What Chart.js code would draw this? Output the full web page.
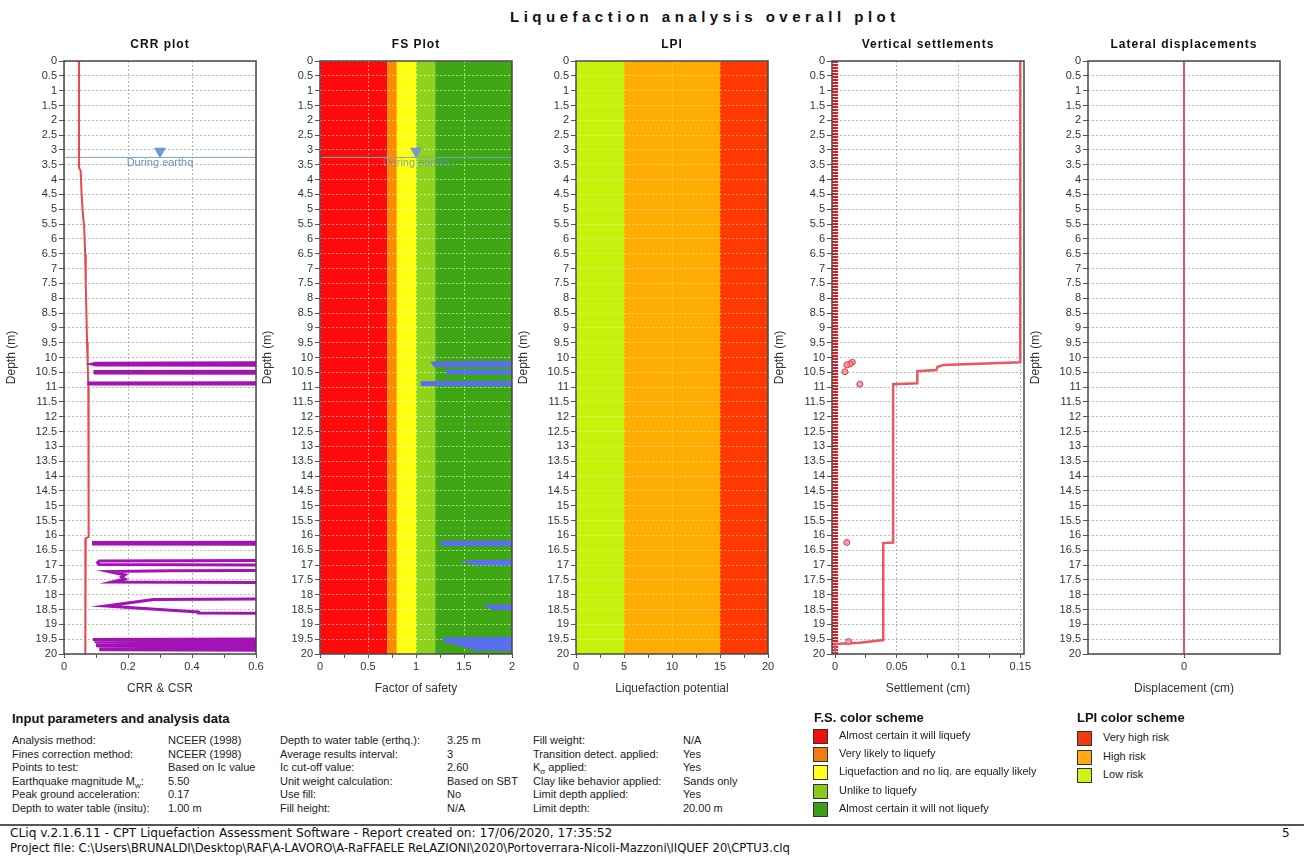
<!DOCTYPE html>
<html>
<head>
<meta charset="utf-8">
<script src="https://cdn.jsdelivr.net/npm/chart.js@4.4.0/dist/chart.umd.min.js"></script>
<style>
  body { margin: 0; background: #fff; width: 1304px; height: 856px; position: relative; overflow: hidden;
         font-family: "Liberation Sans", Arial, sans-serif; color: #222; }
  canvas { position: absolute; top: 36px; }
  .abs { position: absolute; white-space: nowrap; }
  .main-title { top: 8px; left: 510px; font-size: 15px; font-weight: bold; letter-spacing: 4.5px; color: #111; }
  .head { font-size: 13px; font-weight: bold; color: #111; }
  .col { font-size: 11px; line-height: 13.6px; color: #222; }
  .lo { font-size: 8px; position: relative; top: 3px; line-height: 0; }
  .sw { position: absolute; width: 13px; height: 13px; border: 1px solid #333; }
  .leg { font-size: 11px; color: #222; }
  .rule { position: absolute; left: 0; width: 1304px; height: 2px; background: #555; }
  .foot { font-family: "DejaVu Sans", Verdana, sans-serif; color: #111; }
</style>
</head>
<body>
<div class="abs main-title">Liquefaction analysis overall plot</div>

<canvas id="p0" width="264" height="664" style="left:4px"></canvas>
<canvas id="p1" width="264" height="664" style="left:260px"></canvas>
<canvas id="p2" width="264" height="664" style="left:516px"></canvas>
<canvas id="p3" width="264" height="664" style="left:772px"></canvas>
<canvas id="p4" width="264" height="664" style="left:1028px"></canvas>

<div class="abs head" style="left:12px;top:711px">Input parameters and analysis data</div>
<div class="abs col" style="left:12px;top:734px">Analysis method:<br>Fines correction method:<br>Points to test:<br>Earthquake magnitude M<span class="lo">w</span>:<br>Peak ground acceleration:<br>Depth to water table (insitu):</div>
<div class="abs col" style="left:168px;top:734px">NCEER (1998)<br>NCEER (1998)<br>Based on Ic value<br>5.50<br>0.17<br>1.00 m</div>
<div class="abs col" style="left:280px;top:734px">Depth to water table (erthq.):<br>Average results interval:<br>Ic cut-off value:<br>Unit weight calculation:<br>Use fill:<br>Fill height:</div>
<div class="abs col" style="left:447px;top:734px">3.25 m<br>3<br>2.60<br>Based on SBT<br>No<br>N/A</div>
<div class="abs col" style="left:533px;top:734px">Fill weight:<br>Transition detect. applied:<br>K<span class="lo">σ</span> applied:<br>Clay like behavior applied:<br>Limit depth applied:<br>Limit depth:</div>
<div class="abs col" style="left:683px;top:734px">N/A<br>Yes<br>Yes<br>Sands only<br>Yes<br>20.00 m</div>

<div class="abs head" style="left:814px;top:710px">F.S. color scheme</div>
<div id="fsLegend"></div>
<div class="abs head" style="left:1077px;top:710px">LPI color scheme</div>
<div id="lpiLegend"></div>

<div class="rule" style="top:824px"></div>
<div class="abs foot" style="left:10px;top:826px;font-size:12.2px">CLiq v.2.1.6.11 - CPT Liquefaction Assessment Software - Report created on: 17/06/2020, 17:35:52</div>
<div class="abs foot" style="left:1282px;top:826px;font-size:12px">5</div>
<div class="abs foot" style="left:10px;top:841px;font-size:11.6px">Project file: C:\Users\BRUNALDI\Desktop\RAF\A-LAVORO\A-RaFFAELE ReLAZIONI\2020\Portoverrara-Nicoli-Mazzoni\lIQUEF 20\CPTU3.clq</div>

<script>
// depth axis (m)
const depthTicks = [0,0.5,1,1.5,2,2.5,3,3.5,4,4.5,5,5.5,6,6.5,7,7.5,8,8.5,9,9.5,10,10.5,11,11.5,12,12.5,13,13.5,14,14.5,15,15.5,16,16.5,17,17.5,18,18.5,19,19.5,20];

// x ticks per panel (all marks / labelled ones)
const crrTicks = [0,0.1,0.2,0.3,0.4,0.5,0.6];
const crrLabels = [0,0.2,0.4,0.6];
const fsTicks = [0,0.25,0.5,0.75,1,1.25,1.5,1.75,2];
const fsLabels = [0,0.5,1,1.5,2];
const lpiTicks = [0,2.5,5,7.5,10,12.5,15,17.5,20];
const lpiLabels = [0,5,10,15,20];
const settleTicks = [0,0.025,0.05,0.075,0.1,0.125,0.15];
const settleLabels = [0,0.05,0.1,0.15];
const latTicks = [0];
const latLabels = [0];

// CSR (red) and CRR (purple)
const csrDepth = [0,3.6,3.7,4.5,5,5.6,6.5,7.5,8.5,9.5,10.2,11,13,15,16.05,16.1,18.6,18.7,20];
const csrValue = [0.047,0.047,0.052,0.055,0.058,0.063,0.066,0.068,0.07,0.072,0.074,0.076,0.077,0.077,0.077,0.068,0.068,0.066,0.066];
const crrDepth = [10.17,10.19,10.22,10.25,10.27, 10.46,10.47,10.52,10.53, 10.85,10.86,10.89,10.9,
  16.23,16.24,16.29,16.3, 16.84,16.86,16.92,16.98,17.0,
  17.18,17.19,17.22,17.28,17.33,17.4,17.47,17.57,17.6,
  18.14,18.16,18.38,18.55,18.58,18.62,18.64,
  19.49,19.51,19.55,19.58,19.62,19.65,19.68,19.72,19.76,19.79,19.82,19.86,19.88];
const crrValue = [0.8,0.1,0.088,0.1,0.8, 0.8,0.097,0.097,0.8, 0.8,0.078,0.078,0.8,
  0.8,0.092,0.092,0.8, 0.8,0.11,0.105,0.11,0.8,
  0.8,0.33,0.14,0.165,0.19,0.18,0.19,0.15,0.8,
  0.8,0.28,0.13,0.37,0.42,0.42,0.8,
  0.8,0.09,0.8,0.095,0.8,0.1,0.8,0.1,0.8,0.11,0.8,0.11,0.8];

// factor of safety (blue)
const fsDepth = [10.17,10.19,10.21,10.25,10.27, 10.46,10.48,10.51,10.53, 10.85,10.87,10.89,10.91,
  16.23,16.25,16.29,16.31, 16.86,16.9,16.94,16.97, 18.35,18.4,18.45,18.48,
  19.48,19.5,19.55,19.58,19.62,19.66,19.7,19.75,19.78,19.82,19.85];
const fsValue = [3,1.5,1.19,1.2,3, 3,1.33,1.33,3, 3,1.07,1.07,3,
  3,1.28,1.28,3, 3,1.58,1.62,3, 3,1.77,1.8,3,
  3,1.28,3,1.3,3,1.4,3,1.5,3,1.58,3];

// vertical settlement (cm)
const settleDepth = [0,10.16,10.25,10.31,10.42,10.46,10.5,10.87,10.9,16.24,16.26,19.53,19.62,19.66,20];
const settleValue = [0.15,0.15,0.088,0.083,0.082,0.0666,0.0666,0.0666,0.047,0.047,0.039,0.039,0.02,0,0];
const layerDepth = [10.16,10.22,10.25,10.48,10.9,16.24,19.58];
const layerValue = [0.014,0.012,0.0095,0.008,0.02,0.0095,0.011];
const zeroDepth = [0,20];
const zeroValue = [0,0];

// lateral displacement (cm)
const latDepth = [0,20];
const latValue = [0,0];

// water table during earthquake
const waterDepth = 3.25;

// colour bands
const fsBandEdges = [0,0.7,0.8,1.0,1.2,2];
const fsBandColors = ['#ff0a0a','#ff8a00','#ffff10','#8ed21c','#3fa614'];
const lpiBandEdges = [0,5,15,20];
const lpiBandColors = ['#c6f20c','#ffad00','#ff3a00'];

const fsLegend = ['Almost certain it will liquefy','Very likely to liquefy','Liquefaction and no liq. are equally likely','Unlike to liquefy','Almost certain it will not liquefy'];
const fsLegendColors = ['#ee1111','#f07c12','#ffff22','#8cc81e','#3c9e18'];
const lpiLegend = ['Very high risk','High risk','Low risk'];
const lpiLegendColors = ['#f03c10','#ffaa10','#ccf416'];

Chart.defaults.font.family = '"Liberation Sans", Arial, sans-serif';

function xy(xs, ys) { return xs.map((v, i) => ({ x: v, y: ys[i] })); }

function line(xs, ys, color, width, extra) {
  return Object.assign({ data: xy(xs, ys), borderColor: color, borderWidth: width, pointRadius: 0,
    fill: false, tension: 0, clip: 0 }, extra || {});
}

function waterSets(xMax, markerX) {
  return [
    line([0, xMax], [waterDepth, waterDepth], '#7ea4c4', 1),
    { data: [{ x: markerX, y: 3.04 }], showLine: false, pointStyle: 'triangle', rotation: 180,
      pointRadius: 7, backgroundColor: '#6f9ccc', borderColor: '#6f9ccc', borderWidth: 0 }
  ];
}

function panel(idx, cfg) {
  const deco = {
    id: 'deco' + idx,
    beforeDraw(chart) {
      if (!cfg.bands) return;
      const { ctx, chartArea: a, scales: { x } } = chart;
      ctx.save();
      cfg.bands.colors.forEach((c, i) => {
        const x0 = x.getPixelForValue(cfg.bands.edges[i]);
        const x1 = x.getPixelForValue(cfg.bands.edges[i + 1]);
        ctx.fillStyle = c;
        ctx.fillRect(x0, a.top, x1 - x0, a.bottom - a.top);
      });
      ctx.restore();
    },
    afterDatasetsDraw(chart) {
      const { ctx, chartArea: a, scales: { x, y } } = chart;
      ctx.save();
      if (cfg.water) {
        ctx.fillStyle = cfg.water.color;
        ctx.font = '11px "Liberation Sans", Arial, sans-serif';
        ctx.textAlign = 'center';
        ctx.textBaseline = 'middle';
        ctx.fillText('During earthq', x.getPixelForValue(cfg.water.x), y.getPixelForValue(3.45));
      }
      ctx.strokeStyle = '#484848';
      ctx.lineWidth = 1.5;
      ctx.strokeRect(a.left, a.top, a.right - a.left, a.bottom - a.top);
      ctx.fillStyle = '#111';
      ctx.font = 'bold 12px "Liberation Sans", Arial, sans-serif';
      ctx.letterSpacing = '1px';
      ctx.textAlign = 'center';
      ctx.textBaseline = 'middle';
      ctx.fillText(cfg.title, (a.left + a.right) / 2, 9);
      ctx.restore();
    }
  };

  new Chart(document.getElementById('p' + idx), {
    type: 'line',
    data: { datasets: cfg.datasets },
    options: {
      responsive: false,
      animation: false,
      events: [],
      layout: { padding: { top: 25, right: 12, left: 0, bottom: 0 } },
      plugins: { legend: { display: false }, tooltip: { enabled: false } },
      scales: {
        x: {
          type: 'linear', min: cfg.min, max: cfg.max,
          afterBuildTicks: s => { s.ticks = cfg.ticks.map(v => ({ value: v })); },
          afterFit: s => { s.height = 46; s.paddingLeft = 0; s.paddingRight = 0; },
          ticks: { autoSkip: false, maxRotation: 0, padding: 2, color: '#333', font: { size: 11 },
                   callback: v => cfg.labels.includes(v) ? String(v) : '' },
          grid: { color: c => (c.tick && cfg.labels.includes(c.tick.value)) ? cfg.xGrid : 'transparent',
                  tickColor: '#555', tickLength: 4 },
          border: { display: false, dash: [2, 2] },
          title: { display: true, text: cfg.xTitle, color: '#333', font: { size: 12 }, padding: { top: 0, bottom: 4 } }
        },
        y: {
          type: 'linear', reverse: true, min: 0, max: 20,
          afterBuildTicks: s => { s.ticks = depthTicks.map(v => ({ value: v })); },
          afterFit: s => { s.width = 60; s.paddingTop = 0; s.paddingBottom = 0; },
          ticks: { autoSkip: false, padding: 2, color: '#333', font: { size: 11 }, callback: v => String(v) },
          grid: { color: cfg.yGrid, tickColor: '#555', tickLength: 5 },
          border: { display: false, dash: [2, 2] },
          title: { display: true, text: 'Depth (m)', color: '#333', font: { size: 12 }, padding: { top: 0, bottom: 2 } }
        }
      }
    },
    plugins: [deco]
  });
}

panel(0, {
  title: 'CRR plot', xTitle: 'CRR & CSR', min: 0, max: 0.6, ticks: crrTicks, labels: crrLabels,
  xGrid: '#b8b8b8', yGrid: '#b8b8b8',
  water: { x: 0.3, color: '#6a94b8' },
  datasets: [
    line(crrValue, crrDepth, '#a312b4', 3),
    line(csrValue, csrDepth, '#e8484e', 2),
    ...waterSets(0.6, 0.3)
  ]
});

panel(1, {
  title: 'FS Plot', xTitle: 'Factor of safety', min: 0, max: 2, ticks: fsTicks, labels: fsLabels,
  xGrid: 'rgba(255,255,255,0.55)', yGrid: 'rgba(255,255,255,0.55)',
  bands: { edges: fsBandEdges, colors: fsBandColors },
  water: { x: 1.0, color: 'rgba(100,140,190,0.75)' },
  datasets: [
    line(fsValue, fsDepth, '#5a6ef2', 4),
    ...waterSets(2, 1.0)
  ]
});

panel(2, {
  title: 'LPI', xTitle: 'Liquefaction potential', min: 0, max: 20, ticks: lpiTicks, labels: lpiLabels,
  xGrid: 'rgba(255,255,255,0.25)', yGrid: 'rgba(255,255,255,0.4)',
  bands: { edges: lpiBandEdges, colors: lpiBandColors },
  datasets: []
});

panel(3, {
  title: 'Vertical settlements', xTitle: 'Settlement (cm)', min: -0.0025, max: 0.153, ticks: settleTicks, labels: settleLabels,
  xGrid: '#b8b8b8', yGrid: '#b8b8b8',
  datasets: [
    { data: xy(layerValue, layerDepth), showLine: false, pointRadius: 3, pointStyle: 'circle',
      backgroundColor: 'rgba(240,150,160,0.9)', borderColor: '#d84050', borderWidth: 1 },
    line(settleValue, settleDepth, '#e85862', 2.5),
    line(zeroValue, zeroDepth, '#dc1c22', 6, { borderDash: [2, 1], clip: 5 })
  ]
});

panel(4, {
  title: 'Lateral displacements', xTitle: 'Displacement (cm)', min: -1, max: 1, ticks: latTicks, labels: latLabels,
  xGrid: 'transparent', yGrid: '#b8b8b8',
  datasets: [ line(latValue, latDepth, '#e8545c', 2) ]
});

// colour scheme legends
function legend(el, labels, colors, left, top, step) {
  const box = document.getElementById(el);
  labels.forEach((t, i) => {
    const sw = document.createElement('div');
    sw.className = 'sw';
    sw.style.left = left + 'px';
    sw.style.top = (top + i * step) + 'px';
    sw.style.background = colors[i];
    box.appendChild(sw);
    const tx = document.createElement('div');
    tx.className = 'abs leg';
    tx.style.left = (left + 26) + 'px';
    tx.style.top = (top + i * step) + 'px';
    tx.textContent = t;
    box.appendChild(tx);
  });
}
legend('fsLegend', fsLegend, fsLegendColors, 813, 729, 18.2);
legend('lpiLegend', lpiLegend, lpiLegendColors, 1077, 731, 18.5);
</script>
</body>
</html>
